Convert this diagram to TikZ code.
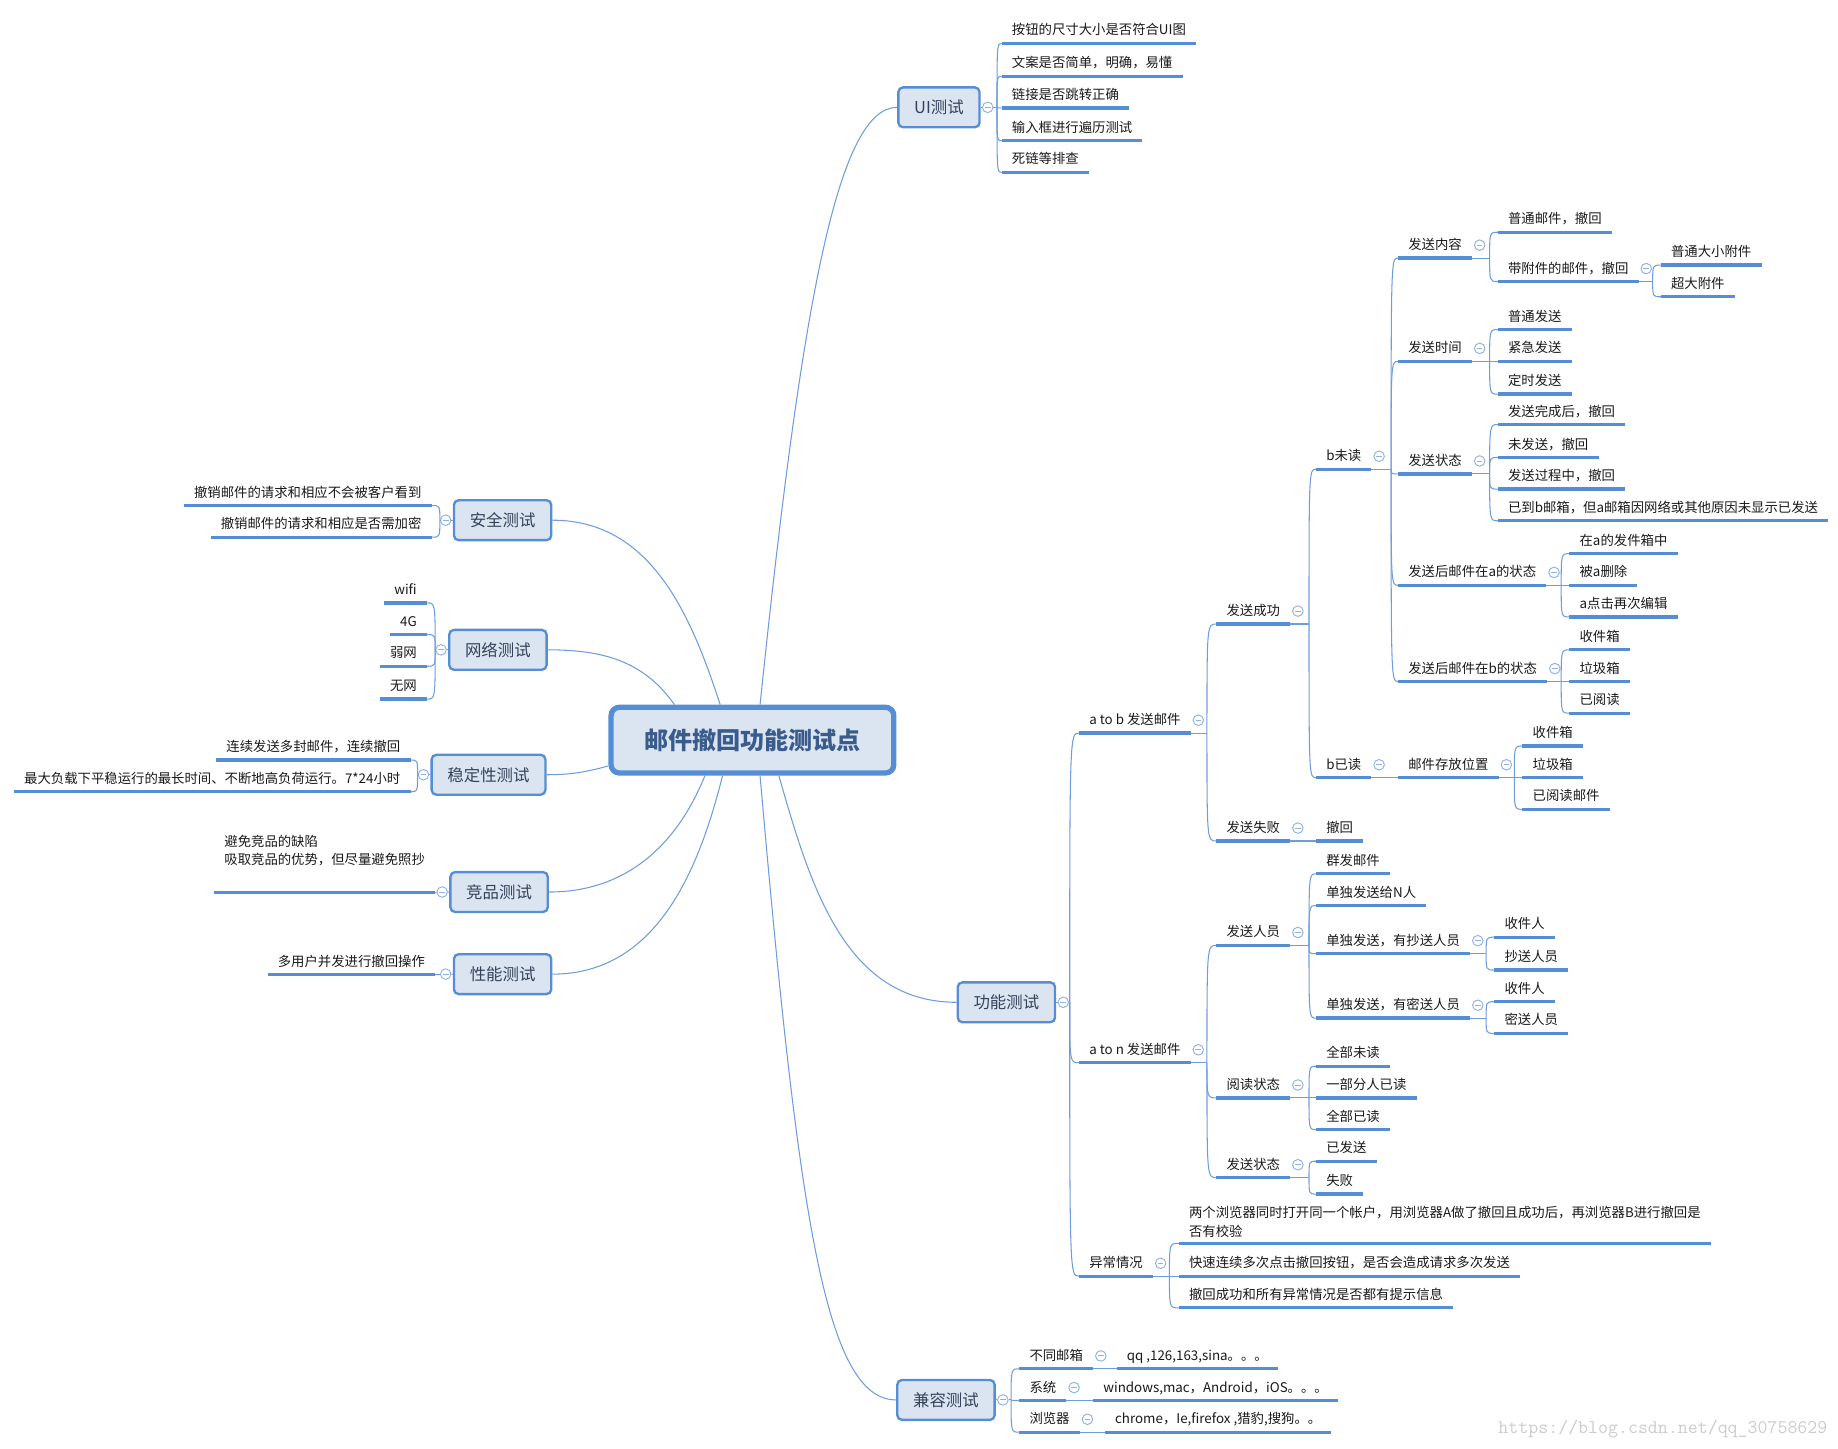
\documentclass[tikz,border=0pt]{standalone}
\usepackage{fontspec}
\setmainfont{Noto Sans CJK SC}
\definecolor{mmblue}{HTML}{558ED5}
\definecolor{mmline}{HTML}{6E9DDB}
\definecolor{mmfill}{HTML}{DBE5F1}
\definecolor{mmtext}{HTML}{34435A}
\definecolor{mmroot}{HTML}{3A5C8C}
\definecolor{mmfold}{HTML}{8FB2E2}
\tikzset{
  root/.style={draw=mmblue,line width=4.5pt,fill=mmfill,rounded corners=7pt,text=mmroot,font=\fontsize{20.5}{20.5}\selectfont\bfseries,minimum width=241pt,minimum height=56pt},
  topic/.style={draw=mmblue,line width=2pt,fill=mmfill,rounded corners=4pt,text=mmtext,font=\fontsize{14}{14}\selectfont,minimum height=34pt,inner xsep=13.5pt},
  uline/.style={draw=mmblue,line width=2.8pt},
  leafbase/.style={inner xsep=8.5pt,inner ysep=4.5pt,text=black!90,font=\fontsize{11.4}{16}\selectfont,append after command={(\tikzlastnode.south west) edge[uline] (\tikzlastnode.south east)}},
  leaf/.style={leafbase,text height=9.5pt,text depth=2.5pt,anchor=south west},
  lleaf/.style={leaf,anchor=south east},
  mleaf/.style={leafbase,align=left,anchor=south west},
  link/.style={draw=mmline,line width=.9pt},
  fold/.style={circle,draw=mmfold,fill=white,line width=.8pt,minimum size=9pt,inner sep=0pt,path picture={\draw[mmfold,line width=.8pt]([xshift=-2.4pt]path picture bounding box.center)--([xshift=2.4pt]path picture bounding box.center);}}
}
% curved links from a fork to the start (or end) of each child's underline
\newcommand\branchto[2]{\foreach \c in {#2}{\draw[link] (#1) .. controls (#1 |- \c.south west) .. (\c.south west);}}
\newcommand\branchfrom[2]{\foreach \c in {#2}{\draw[link] (#1) .. controls (#1 |- \c.south east) .. (\c.south east);}}
\begin{document}
\begin{tikzpicture}[x=1pt,y=-1pt]
\useasboundingbox (0,0) rectangle (1567,1235);
% centre and main topics
\node[root]  (root)   at (641.5,631)    {邮件撤回功能测试点};
\node[topic] (ui)     at (800.5,91.5)   {UI测试};
\node[topic] (safe)   at (428.5,443.5)  {安全测试};
\node[topic] (net)    at (424.5,554)    {网络测试};
\node[topic] (stab)   at (416.5,660.5)  {稳定性测试};
\node[topic] (rival)  at (425.5,760.5)  {竞品测试};
\node[topic] (perf)   at (428.5,830.5)  {性能测试};
\node[topic] (func)   at (858,854.5)    {功能测试};
\node[topic] (compat) at (806.5,1193.5) {兼容测试};
\draw[link] ([xshift=6.5]root.north) .. controls +(36,-348) and +(-50,0) .. (ui.west);
\draw[link] ([xshift=-27.5]root.north) to[out=108,in=0]   (safe);
\draw[link] ([xshift=-66.5]root.north) to[out=125,in=0]   (net);
\draw[link] ([yshift=-22]root.west)    to[out=195,in=0]   (stab);
\draw[link] ([xshift=-40.5]root.south) to[out=-112,in=0]  (rival);
\draw[link] ([xshift=-25.5]root.south) to[out=-104,in=0]  (perf);
\draw[link] ([xshift=22.5]root.south)  to[out=-74,in=180] (func);
\draw[link] ([xshift=6.5]root.south) .. controls +(33,379) and +(-60,0) .. (compat.west);
\node[fold] (uiO)     at ([xshift=6]ui.east)      {};
\node[fold] (safeO)   at ([xshift=-6]safe.west)   {};
\node[fold] (netO)    at ([xshift=-6]net.west)    {};
\node[fold] (stabO)   at ([xshift=-6]stab.west)   {};
\node[fold] (rivalO)  at ([xshift=-6]rival.west)  {};
\node[fold] (perfO)   at ([xshift=-6]perf.west)   {};
\node[fold] (funcO)   at ([xshift=6]func.east)    {};
\node[fold] (compatO) at ([xshift=6]compat.east)  {};
% UI测试
\node[leaf] (ui1) at (854,37)  {按钮的尺寸大小是否符合UI图};
\node[leaf] (ui2) at (854,65)  {文案是否简单，明确，易懂};
\node[leaf] (ui3) at (854,92)  {链接是否跳转正确};
\node[leaf] (ui4) at (854,120) {输入框进行遍历测试};
\node[leaf] (ui5) at (854,147) {死链等排查};
\coordinate (uiF) at (850,91.5);
\draw[link] (ui) -- (uiO) -- (uiF);
\branchto{uiF}{ui1,ui2,ui3,ui4,ui5}
% left side
\node[lleaf] (safe1) at (368,431) {撤销邮件的请求和相应不会被客户看到};
\node[lleaf] (safe2) at (368,458) {撤销邮件的请求和相应是否需加密};
\coordinate (safeF) at (375,443.5);
\draw[link] (safe) -- (safeO) -- (safeF);
\branchfrom{safeF}{safe1,safe2}
\node[lleaf] (net1) at (364,514) {wifi};
\node[lleaf] (net2) at (364,541) {4G};
\node[lleaf] (net3) at (364,568) {弱网};
\node[lleaf] (net4) at (364,596) {无网};
\coordinate (netF) at (371,554);
\draw[link] (net) -- (netO) -- (netF);
\branchfrom{netF}{net1,net2,net3,net4}
\node[lleaf] (stab1) at (350,648) {连续发送多封邮件，连续撤回};
\node[lleaf] (stab2) at (350,675) {最大负载下平稳运行的最长时间、不断地高负荷运行。7*24小时};
\coordinate (stabF) at (356,660.5);
\draw[link] (stab) -- (stabO) -- (stabF);
\branchfrom{stabF}{stab1,stab2}
\node[mleaf,anchor=south east] (rival1) at (371,761) {避免竞品的缺陷\\吸取竞品的优势，但尽量避免照抄\\[3pt]\mbox{}};
\draw[link] (rival) -- (rivalO) -- (rival1.south east);
\node[lleaf] (perf1) at (371,831) {多用户并发进行撤回操作};
\draw[link] (perf) -- (perfO) -- (perf1.south east);
% 功能测试
\node[leaf] (atob) at (920,625)  {a to b 发送邮件};
\node[leaf] (aton) at (920,906)  {a to n 发送邮件};
\node[leaf] (err)  at (920,1088) {异常情况};
\coordinate (funcF) at (912,854.5);
\draw[link] (func) -- (funcO) -- (funcF);
\branchto{funcF}{atob,aton,err}
% a to b
\node[leaf] (sent) at (1037,532) {发送成功};
\node[leaf] (fail) at (1037,717) {发送失败};
\node[fold] (atobO) at ([shift={(6.5,-11)}]atob.south east) {};
\coordinate (atobF) at (1029,625);
\draw[link] (atob.south east) -- (atobF);
\branchto{atobF}{sent,fail}
\node[leaf] (unread) at (1122,400) {b未读};
\node[leaf] (read)   at (1122,663) {b已读};
\node[fold] (sentO) at ([shift={(6.5,-11)}]sent.south east) {};
\coordinate (sentF) at (1116,532);
\draw[link] (sent.south east) -- (sentF);
\branchto{sentF}{unread,read}
\node[leaf] (failR) at (1122,717) {撤回};
\node[fold] (failO) at ([shift={(6.5,-11)}]fail.south east) {};
\draw[link] (fail.south east) -- (failR.south west);
% b未读
\node[leaf] (cont)  at (1192,220) {发送内容};
\node[leaf] (time)  at (1192,308) {发送时间};
\node[leaf] (state) at (1192,404) {发送状态};
\node[leaf] (boxa)  at (1192,499) {发送后邮件在a的状态};
\node[leaf] (boxb)  at (1192,581) {发送后邮件在b的状态};
\node[fold] (unreadO) at ([shift={(6.5,-11)}]unread.south east) {};
\coordinate (unreadF) at (1186,400);
\draw[link] (unread.south east) -- (unreadF);
\branchto{unreadF}{cont,time,state,boxa,boxb}
\node[leaf] (cont1) at (1277,198) {普通邮件，撤回};
\node[leaf] (cont2) at (1277,240) {带附件的邮件，撤回};
\node[fold] (contO) at ([shift={(6.5,-11)}]cont.south east) {};
\coordinate (contF) at (1270,220);
\draw[link] (cont.south east) -- (contF);
\branchto{contF}{cont1,cont2}
\node[leaf] (att1) at (1416,226) {普通大小附件};
\node[leaf] (att2) at (1416,253) {超大附件};
\node[fold] (cont2O) at ([shift={(6.5,-11)}]cont2.south east) {};
\coordinate (cont2F) at (1409,240);
\draw[link] (cont2.south east) -- (cont2F);
\branchto{cont2F}{att1,att2}
\node[leaf] (time1) at (1277,281) {普通发送};
\node[leaf] (time2) at (1277,308) {紧急发送};
\node[leaf] (time3) at (1277,336) {定时发送};
\node[fold] (timeO) at ([shift={(6.5,-11)}]time.south east) {};
\coordinate (timeF) at (1270,308);
\draw[link] (time.south east) -- (timeF);
\branchto{timeF}{time1,time2,time3}
\node[leaf] (state1) at (1277,362) {发送完成后，撤回};
\node[leaf] (state2) at (1277,390) {未发送，撤回};
\node[leaf] (state3) at (1277,417) {发送过程中，撤回};
\node[leaf] (state4) at (1277,444) {已到b邮箱，但a邮箱因网络或其他原因未显示已发送};
\node[fold] (stateO) at ([shift={(6.5,-11)}]state.south east) {};
\coordinate (stateF) at (1270,404);
\draw[link] (state.south east) -- (stateF);
\branchto{stateF}{state1,state2,state3,state4}
\node[leaf] (boxa1) at (1338,472) {在a的发件箱中};
\node[leaf] (boxa2) at (1338,499) {被a删除};
\node[leaf] (boxa3) at (1338,526) {a点击再次编辑};
\node[fold] (boxaO) at ([shift={(6.5,-11)}]boxa.south east) {};
\coordinate (boxaF) at (1331,499);
\draw[link] (boxa.south east) -- (boxaF);
\branchto{boxaF}{boxa1,boxa2,boxa3}
\node[leaf] (boxb1) at (1338,554) {收件箱};
\node[leaf] (boxb2) at (1338,581) {垃圾箱};
\node[leaf] (boxb3) at (1338,608) {已阅读};
\node[fold] (boxbO) at ([shift={(6.5,-11)}]boxb.south east) {};
\coordinate (boxbF) at (1331,581);
\draw[link] (boxb.south east) -- (boxbF);
\branchto{boxbF}{boxb1,boxb2,boxb3}
% b已读
\node[leaf] (place) at (1192,663) {邮件存放位置};
\node[fold] (readO) at ([shift={(6.5,-11)}]read.south east) {};
\draw[link] (read.south east) -- (place.south west);
\node[leaf] (place1) at (1298,636) {收件箱};
\node[leaf] (place2) at (1298,663) {垃圾箱};
\node[leaf] (place3) at (1298,690) {已阅读邮件};
\node[fold] (placeO) at ([shift={(6.5,-11)}]place.south east) {};
\coordinate (placeF) at (1291,663);
\draw[link] (place.south east) -- (placeF);
\branchto{placeF}{place1,place2,place3}
% a to n
\node[leaf] (who)    at (1037,806)  {发送人员};
\node[leaf] (look)   at (1037,936)  {阅读状态};
\node[leaf] (sstate) at (1037,1004) {发送状态};
\node[fold] (atonO) at ([shift={(6.5,-11)}]aton.south east) {};
\coordinate (atonF) at (1029,906);
\draw[link] (aton.south east) -- (atonF);
\branchto{atonF}{who,look,sstate}
\node[leaf] (who1) at (1122,745) {群发邮件};
\node[leaf] (who2) at (1122,772) {单独发送给N人};
\node[leaf] (who3) at (1122,813) {单独发送，有抄送人员};
\node[leaf] (who4) at (1122,868) {单独发送，有密送人员};
\node[fold] (whoO) at ([shift={(6.5,-11)}]who.south east) {};
\coordinate (whoF) at (1116,806);
\draw[link] (who.south east) -- (whoF);
\branchto{whoF}{who1,who2,who3,who4}
\node[leaf] (cc1) at (1274,799) {收件人};
\node[leaf] (cc2) at (1274,827) {抄送人员};
\node[fold] (who3O) at ([shift={(6.5,-11)}]who3.south east) {};
\coordinate (who3F) at (1267,813);
\draw[link] (who3.south east) -- (who3F);
\branchto{who3F}{cc1,cc2}
\node[leaf] (bcc1) at (1274,854) {收件人};
\node[leaf] (bcc2) at (1274,881) {密送人员};
\node[fold] (who4O) at ([shift={(6.5,-11)}]who4.south east) {};
\coordinate (who4F) at (1267,868);
\draw[link] (who4.south east) -- (who4F);
\branchto{who4F}{bcc1,bcc2}
\node[leaf] (look1) at (1122,909) {全部未读};
\node[leaf] (look2) at (1122,936) {一部分人已读};
\node[leaf] (look3) at (1122,963) {全部已读};
\node[fold] (lookO) at ([shift={(6.5,-11)}]look.south east) {};
\coordinate (lookF) at (1116,936);
\draw[link] (look.south east) -- (lookF);
\branchto{lookF}{look1,look2,look3}
\node[leaf] (ss1) at (1122,990)  {已发送};
\node[leaf] (ss2) at (1122,1018) {失败};
\node[fold] (sstateO) at ([shift={(6.5,-11)}]sstate.south east) {};
\coordinate (sstateF) at (1116,1004);
\draw[link] (sstate.south east) -- (sstateF);
\branchto{sstateF}{ss1,ss2}
% 异常情况
\node[mleaf] (err1) at (1005,1060) {两个浏览器同时打开同一个帐户，用浏览器A做了撤回且成功后，再浏览器B进行撤回是\\否有校验};
\node[leaf]  (err2) at (1005,1088) {快速连续多次点击撤回按钮，是否会造成请求多次发送};
\node[leaf]  (err3) at (1005,1115) {撤回成功和所有异常情况是否都有提示信息};
\node[fold] (errO) at ([shift={(6.5,-11)}]err.south east) {};
\coordinate (errF) at (997,1088);
\draw[link] (err.south east) -- (errF);
\branchto{errF}{err1,err2,err3}
% 兼容测试
\node[leaf] (mbox) at (869,1167) {不同邮箱};
\node[leaf] (os)   at (869,1194) {系统};
\node[leaf] (web)  at (869,1221) {浏览器};
\coordinate (compatF) at (862,1193.5);
\draw[link] (compat) -- (compatO) -- (compatF);
\branchto{compatF}{mbox,os,web}
\node[leaf] (mboxV) at (952,1167) {qq ,126,163,sina。。。};
\node[leaf] (osV)   at (932,1194) {windows,mac，Android，iOS。。。};
\node[leaf] (webV)  at (942,1221) {chrome，Ie,firefox ,猎豹,搜狗。。};
\node[fold] (mboxO) at ([shift={(6.5,-11)}]mbox.south east) {};
\node[fold] (osO)   at ([shift={(6.5,-11)}]os.south east)   {};
\node[fold] (webO)  at ([shift={(6.5,-11)}]web.south east)  {};
\draw[link] (mbox.south east) -- (mboxV.south west);
\draw[link] (os.south east)   -- (osV.south west);
\draw[link] (web.south east)  -- (webV.south west);
\node[anchor=west,text=gray!40,font=\fontsize{16.5}{16.5}\ttfamily] (mark) at (1274,1218) {https://blog.csdn.net/qq\_30758629};
\end{tikzpicture}
\end{document}
